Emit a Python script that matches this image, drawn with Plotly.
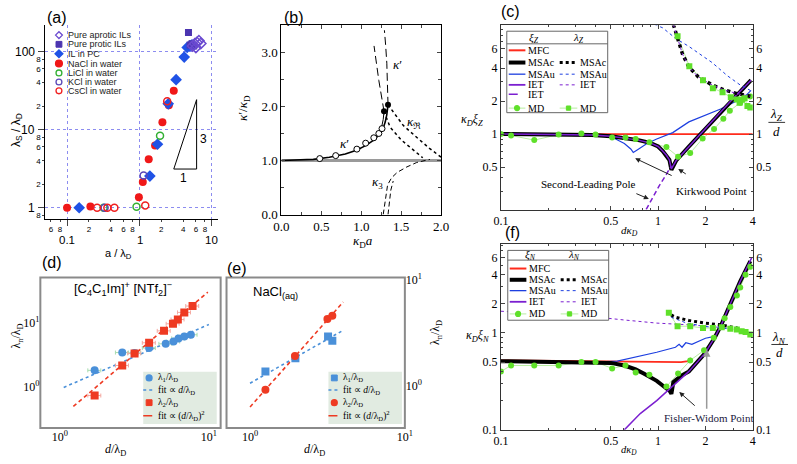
import plotly.graph_objects as go
import math

W, H = 797, 464
def X(px): return px / W
def Y(py): return 1 - py / H
def dom_x(a, b): return [a / W, b / W]
def dom_y(top, bot): return [1 - bot / H, 1 - top / H]

SERIF = "Liberation Serif"
SANS = "Liberation Sans"

# ---------------- panel (a) data ----------------
a_aprotic_x = [5.4, 5.8, 6.2, 6.6, 7.0, 6.0]
a_aprotic_y = [118, 126, 131, 138, 127, 113]
a_protic_x = [4.74, 5.0, 5.3, 5.6]
a_protic_y = [176, 121, 126, 118]
a_ilpc_x = [0.147, 1.39, 1.77, 2.49, 3.2, 4.14, 4.55, 4.95, 5.3]
a_ilpc_y = [1.0, 2.54, 6.5, 21.4, 43.7, 85, 113, 118, 122]
a_nacl_x = [0.1, 0.21, 0.98, 1.11, 1.34, 1.64, 2.07, 2.54, 2.97]
a_nacl_y = [1.0, 1.04, 1.36, 2.14, 4.17, 6.28, 12.4, 20.6, 31.6]
a_licl_x = [0.32, 0.91, 1.92]
a_licl_y = [1.0, 1.03, 8.36]
a_kcl_x = [0.33, 1.14]
a_kcl_y = [1.0, 2.59]
a_cscl_x = [0.26, 0.36, 0.45, 1.2, 2.41]
a_cscl_y = [1.0, 1.0, 1.0, 1.07, 23.1]
a_tri_x = [2.97, 6.14, 6.14, 2.97]
a_tri_y = [3.13, 3.13, 24.2, 3.13]
a_xticks = [0.06, 0.08, 0.1, 0.2, 0.4, 0.6, 0.8, 1, 2, 4, 6, 8, 10]
a_xlabels = ["6", "8", "", "2", "4", "6", "8", "", "2", "4", "6", "8", ""]
a_xdecades = [0.1, 1, 10]
a_xdecade_labels = ["0.1", "1", "10"]
a_yticks = [0.8, 1, 2, 4, 6, 8, 10, 20, 40, 60, 80, 100]
a_ylabels = ["8", "", "2", "4", "6", "8", "", "2", "4", "6", "8", ""]
a_ydecades = [1, 10, 100]
a_ydecade_labels = ["1", "10", "100"]
a_legend = ["Pure aprotic ILs", "Pure protic ILs", "IL in PC", "NaCl in water",
            "LiCl in water", "KCl in water", "CsCl in water"]

# ---------------- panel (b) data ----------------
b_hline_x = [0.0, 2.0]
b_hline_y = [1.0, 1.0]
b_kp_x = [0.0, 0.2, 0.4, 0.6, 0.8, 0.94, 1.06, 1.16, 1.22, 1.27, 1.30, 1.32, 1.335]
b_kp_y = [1.0, 1.005, 1.02, 1.06, 1.12, 1.19, 1.28, 1.38, 1.47, 1.58, 1.71, 1.85, 2.03]
b_kp2_x = [1.16, 1.22, 1.255, 1.275, 1.285]
b_kp2_y = [1.40, 1.50, 1.62, 1.76, 1.91]
b_sim_x = [0.48, 0.68, 0.945, 1.055, 1.157, 1.22, 1.26]
b_sim_y = [1.035, 1.09, 1.21, 1.32, 1.42, 1.50, 1.59]
b_dot_x = [1.285, 1.335]
b_dot_y = [1.91, 2.03]
b_up1_x = [1.335, 1.33, 1.32, 1.305, 1.29]
b_up1_y = [2.03, 2.4, 2.8, 3.14, 3.41]
b_up2_x = [1.285, 1.25, 1.22, 1.19, 1.16]
b_up2_y = [1.91, 2.2, 2.48, 2.8, 3.12]
b_r1_x = [1.335, 1.525, 1.7, 1.85, 2.0]
b_r1_y = [2.03, 1.65, 1.42, 1.23, 1.06]
b_r2_x = [1.285, 1.36, 1.5, 1.65, 1.77]
b_r2_y = [1.91, 1.62, 1.38, 1.2, 1.05]
b_k3a_x = [1.275, 1.30, 1.33, 1.38, 1.45, 1.57, 1.69, 1.80, 1.86]
b_k3a_y = [0.0, 0.3, 0.55, 0.68, 0.78, 0.88, 0.96, 1.0, 1.02]
b_k3b_x = [1.335, 1.35, 1.37, 1.40]
b_k3b_y = [0.0, 0.25, 0.45, 0.62]

# ---------------- panel (c) data ----------------
c_mfc_x = [0.1, 4.0]
c_mfc_y = [1.0, 1.0]
c_msac_x = [0.1, 0.2, 0.38, 0.5, 0.61, 0.75, 0.89, 1.0, 1.07, 1.13, 1.18, 1.215,
            1.3, 1.57, 1.98, 2.5, 3.17, 3.9]
c_msac_y = [1.0, 0.995, 0.98, 0.955, 0.915, 0.88, 0.83, 0.77, 0.70, 0.64, 0.58, 0.47,
            0.57, 0.77, 1.1, 1.59, 2.29, 3.1]
c_iet_x = [0.1, 0.2, 0.38, 0.5, 0.61, 0.75, 0.89, 1.0, 1.07, 1.13, 1.18, 1.215,
           1.3, 1.57, 1.98, 2.5, 3.17, 3.9]
c_iet_y = [1.0, 0.995, 0.98, 0.955, 0.915, 0.88, 0.83, 0.77, 0.70, 0.64, 0.58, 0.48,
           0.57, 0.77, 1.1, 1.59, 2.29, 3.1]
c_iet2_x = [0.84, 0.93, 1.02, 1.13, 1.21]
c_iet2_y = [0.205, 0.27, 0.34, 0.43, 0.51]
c_msau_x = [0.1, 0.3, 0.5, 0.61, 0.67, 0.695, 0.74, 0.85, 0.98, 1.24, 1.57, 1.98, 2.5, 3.0, 3.5, 3.9]
c_msau_y = [1.0, 0.995, 0.95, 0.82, 0.73, 0.68, 0.72, 0.82, 0.90, 1.03, 1.29, 1.47, 1.69, 1.93, 2.14, 2.5]
c_md_x = [0.1, 0.116, 0.163, 0.233, 0.325, 0.40, 0.51, 0.62, 0.72, 0.88, 1.13, 1.34,
          1.6, 1.92, 2.27, 2.6, 2.86, 3.33, 3.86]
c_md_y = [1.0, 0.97, 0.88, 0.99, 1.01, 0.99, 0.93, 0.93, 0.90, 0.84, 0.76, 0.62,
          0.67, 0.91, 1.11, 1.38, 1.63, 1.93, 2.2]
c_lmsac_x = [1.25, 1.33, 1.43, 1.57, 1.8, 2.2, 2.6, 3.17, 3.86]
c_lmsac_y = [10.0, 7.5, 5.35, 4.08, 3.33, 2.81, 2.54, 2.34, 2.21]
c_liet_x = [1.25, 1.33, 1.43, 1.57, 1.8, 2.2, 2.6, 3.17, 3.86]
c_liet_y = [10.0, 7.5, 5.35, 4.08, 3.33, 2.81, 2.54, 2.34, 2.21]
c_lmsau_x = [0.95, 1.07, 1.3, 1.57, 1.9, 2.2, 2.76, 3.33, 3.86]
c_lmsau_y = [10.0, 9.3, 7.4, 6.3, 5.2, 4.5, 3.4, 2.8, 2.5]
c_lmd_x = [1.33, 1.58, 1.93, 2.23, 2.57, 2.9, 3.17, 3.3, 3.42, 3.55, 3.7, 3.86]
c_lmd_y = [7.8, 4.16, 3.1, 2.62, 2.4, 2.17, 2.07, 1.93, 2.05, 2.12, 1.8, 1.75]

# ---------------- panel (f) data ----------------
f_mfc_x = [0.1, 0.3, 0.6, 1.0, 1.4, 1.55, 1.62]
f_mfc_y = [0.52, 0.51, 0.505, 0.5, 0.5, 0.51, 0.55]
f_msac_x = [0.1, 0.3, 0.5, 0.61, 0.72, 0.81, 0.98, 1.12, 1.19, 1.215,
            1.25, 1.4, 1.57, 1.98, 2.29, 2.5, 2.88, 3.33, 3.86]
f_msac_y = [0.51, 0.50, 0.49, 0.46, 0.42, 0.38, 0.32, 0.27, 0.25, 0.235,
            0.31, 0.36, 0.40, 0.61, 0.89, 1.17, 2.0, 3.4, 5.5]
f_iet_x = [0.61, 0.77, 0.98, 1.21, 1.4, 1.57, 1.98, 2.29, 2.5, 2.88, 3.33, 3.95]
f_iet_y = [0.1, 0.147, 0.2, 0.27, 0.34, 0.40, 0.61, 0.89, 1.17, 2.0, 3.4, 6.0]
f_msau_x = [0.1, 0.4, 0.55, 0.65, 0.77, 0.98, 1.29, 1.36, 1.42, 1.5, 1.64, 1.8, 2.0, 2.29, 2.5, 2.88, 3.33, 3.86]
f_msau_y = [0.5, 0.5, 0.51, 0.54, 0.58, 0.63, 0.71, 0.76, 0.71, 0.79, 0.76, 0.82, 0.88, 0.92, 1.17, 2.0, 3.4, 5.5]
f_md_x = [0.1, 0.116, 0.163, 0.233, 0.325, 0.40, 0.51, 0.62, 0.72, 0.88, 1.13, 1.34,
          1.6, 1.96, 2.26, 2.65, 2.88, 3.17, 3.33, 3.6, 3.86]
f_md_y = [0.40, 0.46, 0.46, 0.46, 0.50, 0.50, 0.43, 0.46, 0.39, 0.37, 0.28, 0.38,
          0.52, 0.66, 0.89, 1.41, 1.85, 2.42, 2.93, 3.98, 4.8]
f_liet_x = [0.1, 0.2, 0.38, 0.6, 0.98, 1.57, 2.5, 3.17, 3.86]
f_liet_y = [1.67, 1.57, 1.47, 1.36, 1.26, 1.21, 1.14, 1.06, 0.96]
f_lmsac_x = [1.21, 1.29, 1.57, 1.98, 2.5, 3.17, 3.86]
f_lmsac_y = [1.53, 1.45, 1.34, 1.26, 1.21, 1.12, 0.96]
f_lmsau_x = [1.21, 1.5, 2.0, 2.5, 3.0, 3.86]
f_lmsau_y = [1.45, 1.27, 1.16, 1.13, 1.08, 0.96]
f_lmd_x = [1.17, 1.33, 1.6, 1.93, 2.23, 2.54, 2.88, 3.17, 3.4, 3.6, 3.86]
f_lmd_y = [1.61, 1.17, 1.17, 1.12, 1.12, 1.14, 1.10, 1.08, 1.04, 1.02, 0.96]

cf_xticks = [0.1, 0.5, 1, 2, 4]
cf_xminor = [0.2, 0.3, 0.4, 0.6, 0.7, 0.8, 0.9, 3]
c_yticks = [0.5, 1, 2, 4, 6]
f_yticks = [0.1, 0.5, 1, 2, 4, 6]

# ---------------- panel (d) data ----------------
d_l1_x = [1.71, 2.62, 3.17, 3.97, 5.13, 5.79, 6.25, 6.84, 7.57]
d_l1_y = [1.83, 3.47, 3.43, 4.08, 4.75, 5.16, 5.78, 6.19, 6.58]
d_l2_x = [1.71, 2.62, 3.17, 3.97, 5.0, 5.74, 6.19, 6.84, 7.77]
d_l2_y = [0.74, 2.18, 3.36, 4.93, 7.57, 9.77, 11.4, 14.7, 18.5]
d_fit1_x = [1.06, 10.0]
d_fit1_y = [0.99, 9.53]
d_fit2_x = [1.23, 9.84]
d_fit2_y = [0.50, 30.5]

# ---------------- panel (e) data ----------------
e_l1_x = [1.257, 1.963, 3.19, 3.40]
e_l1_y = [1.47, 2.07, 3.66, 3.28]
e_l2_x = [1.257, 1.95, 3.16, 3.40]
e_l2_y = [0.91, 2.19, 5.78, 6.28]
e_fit1_x = [1.0, 4.0]
e_fit1_y = [1.08, 4.3]
e_fit2_x = [1.0, 4.0]
e_fit2_y = [0.58, 9.0]

# ---------------- styles ----------------
RED = "#ff2b1c"
BLUE = "#1d3fe0"
PURPLE = "#7b1fd0"
GREEN = "#5fe02a"
LGREEN = "#b7eea0"
DBLUE = "#4a90d9"
DRED = "#ee3a22"

fig = go.Figure()

def sc(x, y, xa, ya, **kw):
    fig.add_trace(go.Scatter(x=x, y=y, xaxis=xa, yaxis=ya, showlegend=False,
                             hoverinfo="skip", **kw))

# ---- (a)
sc(a_tri_x, a_tri_y, "x", "y", mode="lines", line=dict(color="black", width=1))
sc(a_nacl_x, a_nacl_y, "x", "y", mode="markers", marker=dict(symbol="circle", size=8, color="#f01818"))
sc(a_ilpc_x, a_ilpc_y, "x", "y", mode="markers", marker=dict(symbol="diamond", size=9, color="#1f52e6"))
sc(a_protic_x, a_protic_y, "x", "y", mode="markers", marker=dict(symbol="square", size=7, color="#4b35b0"))
sc(a_aprotic_x, a_aprotic_y, "x", "y", mode="markers",
   marker=dict(symbol="diamond-open", size=8, color="#6a4ad0", line=dict(width=1.5)))
sc(a_licl_x, a_licl_y, "x", "y", mode="markers",
   marker=dict(symbol="circle-open", size=7, color="#33b033", line=dict(width=1.5)))
sc(a_kcl_x, a_kcl_y, "x", "y", mode="markers",
   marker=dict(symbol="circle-open", size=7, color="#5a48b8", line=dict(width=1.5)))
sc(a_cscl_x, a_cscl_y, "x", "y", mode="markers",
   marker=dict(symbol="circle-open", size=7, color="#f02020", line=dict(width=1.5)))

# ---- (b)
sc(b_hline_x, b_hline_y, "x2", "y2", mode="lines", line=dict(color="#9a9a9a", width=3))
sc(b_kp2_x, b_kp2_y, "x2", "y2", mode="lines", line=dict(color="black", width=1))
sc(b_kp_x, b_kp_y, "x2", "y2", mode="lines", line=dict(color="black", width=1.6))
sc(b_up1_x, b_up1_y, "x2", "y2", mode="lines", line=dict(color="black", width=1, dash="8px,4px"))
sc(b_up2_x, b_up2_y, "x2", "y2", mode="lines", line=dict(color="black", width=1, dash="8px,4px"))
sc(b_r1_x, b_r1_y, "x2", "y2", mode="lines", line=dict(color="black", width=1.5, dash="dot"))
sc(b_r2_x, b_r2_y, "x2", "y2", mode="lines", line=dict(color="black", width=1.5, dash="dot"))
sc(b_k3a_x, b_k3a_y, "x2", "y2", mode="lines", line=dict(color="black", width=1, dash="5px,3px"))
sc(b_k3b_x, b_k3b_y, "x2", "y2", mode="lines", line=dict(color="black", width=1, dash="5px,3px"))
sc(b_sim_x, b_sim_y, "x2", "y2", mode="markers",
   marker=dict(symbol="circle", size=6, color="white", line=dict(color="black", width=1)))
sc(b_dot_x, b_dot_y, "x2", "y2", mode="markers", marker=dict(symbol="circle", size=6, color="black"))

# ---- (c)
sc(c_md_x, c_md_y, "x3", "y3", mode="lines", line=dict(color=LGREEN, width=1))
sc(c_lmd_x, c_lmd_y, "x3", "y4", mode="lines", line=dict(color=LGREEN, width=1))
sc(c_mfc_x, c_mfc_y, "x3", "y3", mode="lines", line=dict(color=RED, width=1.8))
sc(c_msau_x, c_msau_y, "x3", "y3", mode="lines", line=dict(color=BLUE, width=1.2))
sc(c_lmsau_x, c_lmsau_y, "x3", "y4", mode="lines", line=dict(color=BLUE, width=1, dash="dot"))
sc(c_msac_x, c_msac_y, "x3", "y3", mode="lines", line=dict(color="black", width=4))
sc(c_iet_x, c_iet_y, "x3", "y3", mode="lines", line=dict(color=PURPLE, width=1.5))
sc(c_iet2_x, c_iet2_y, "x3", "y3", mode="lines", line=dict(color=PURPLE, width=1.5, dash="5px,3px"))
sc(c_lmsac_x, c_lmsac_y, "x3", "y4", mode="lines", line=dict(color="black", width=3.5, dash="dot"))
sc(c_liet_x, c_liet_y, "x3", "y4", mode="lines", line=dict(color=PURPLE, width=1, dash="dot"))
sc(c_md_x, c_md_y, "x3", "y3", mode="markers", marker=dict(symbol="circle", size=6, color=GREEN))
sc(c_lmd_x, c_lmd_y, "x3", "y4", mode="markers", marker=dict(symbol="square", size=6, color=GREEN))

# ---- (f)
sc(f_md_x, f_md_y, "x5", "y5", mode="lines", line=dict(color=LGREEN, width=1))
sc(f_lmd_x, f_lmd_y, "x5", "y6", mode="lines", line=dict(color=LGREEN, width=1))
sc(f_liet_x, f_liet_y, "x5", "y6", mode="lines", line=dict(color=PURPLE, width=1, dash="dot"))
sc(f_lmsau_x, f_lmsau_y, "x5", "y6", mode="lines", line=dict(color=BLUE, width=1, dash="dot"))
sc(f_lmsac_x, f_lmsac_y, "x5", "y6", mode="lines", line=dict(color="black", width=3, dash="dot"))
sc(f_mfc_x, f_mfc_y, "x5", "y5", mode="lines", line=dict(color=RED, width=1.8))
sc(f_msau_x, f_msau_y, "x5", "y5", mode="lines", line=dict(color=BLUE, width=1.2))
sc(f_msac_x, f_msac_y, "x5", "y5", mode="lines", line=dict(color="black", width=4))
sc(f_iet_x, f_iet_y, "x5", "y5", mode="lines", line=dict(color=PURPLE, width=1.5))
sc(f_md_x, f_md_y, "x5", "y5", mode="markers", marker=dict(symbol="circle", size=6, color=GREEN))
sc(f_lmd_x, f_lmd_y, "x5", "y6", mode="markers", marker=dict(symbol="square", size=6, color=GREEN))

# ---- (d)
sc(d_fit1_x, d_fit1_y, "x7", "y7", mode="lines", line=dict(color=DBLUE, width=1.6, dash="dot"))
sc(d_fit2_x, d_fit2_y, "x7", "y7", mode="lines", line=dict(color=DRED, width=1.6, dash="4px,3px"))
sc(d_l1_x, d_l1_y, "x7", "y7", mode="markers", marker=dict(symbol="circle", size=8, color=DBLUE),
   error_x=dict(type="percent", value=10, color="#a8dcb0", thickness=1, width=2))
sc(d_l2_x, d_l2_y, "x7", "y7", mode="markers", marker=dict(symbol="square", size=8, color=DRED),
   error_x=dict(type="percent", value=10, color="#f4a8a0", thickness=1, width=2))

# ---- (e)
sc(e_fit1_x, e_fit1_y, "x8", "y8", mode="lines", line=dict(color=DBLUE, width=1.6, dash="dot"))
sc(e_fit2_x, e_fit2_y, "x8", "y8", mode="lines", line=dict(color=DRED, width=1.6, dash="4px,3px"))
sc(e_l1_x, e_l1_y, "x8", "y8", mode="markers", marker=dict(symbol="square", size=8, color=DBLUE))
sc(e_l2_x, e_l2_y, "x8", "y8", mode="markers", marker=dict(symbol="circle", size=8, color=DRED))
sc([None], [None], "x8", "y9", mode="markers")

# ---------------- axes ----------------
def lg(v): return math.log10(v)

GRID = dict(showgrid=True, gridcolor="#8c8cf0", griddash="dot", gridwidth=1)

layout = dict(
    width=W, height=H, margin=dict(l=0, r=0, t=0, b=0), autosize=False,
    paper_bgcolor="white", plot_bgcolor="white", showlegend=False,
    xaxis=dict(type="log", domain=dom_x(38, 214), range=[lg(0.05), lg(12.0)], anchor="y",
               tickmode="array", tickvals=a_xticks, ticktext=a_xlabels, ticks="outside", ticklen=2,
               tickangle=0, showline=True, linecolor="black", linewidth=1, showgrid=False,
               zeroline=False, tickfont=dict(family=SANS, size=8, color="black"),
               minor=dict(tickmode="array", tickvals=a_xdecades, ticks="outside", ticklen=6, **GRID)),
    yaxis=dict(type="log", domain=dom_y(20, 220), range=[-0.149, 2.335], anchor="x",
               tickmode="array", tickvals=a_yticks, ticktext=a_ylabels, ticks="outside", ticklen=2,
               tickangle=0, showline=True, linecolor="black", linewidth=1, showgrid=False,
               zeroline=False, tickfont=dict(family=SANS, size=8, color="black"),
               minor=dict(tickmode="array", tickvals=a_ydecades, ticks="outside", ticklen=6, **GRID)),
    xaxis2=dict(domain=dom_x(279, 442), range=[0, 2.0], anchor="y2",
                tickmode="array", tickvals=[0, 0.5, 1.0, 1.5, 2.0], tickangle=0,
                ticktext=["0.0", "0.5", "1.0", "1.5", "2.0"], ticks="inside", ticklen=4,
                showline=True, linecolor="black", linewidth=1, mirror="allticks",
                showgrid=False, zeroline=False, tickfont=dict(family=SERIF, size=13, color="black"),
                minor=dict(dtick=0.25, ticks="inside", ticklen=3)),
    yaxis2=dict(domain=dom_y(20, 215), range=[0, 3.5], anchor="x2",
                tickmode="array", tickvals=[0, 1, 2, 3], ticktext=["0.0", "1.0", "2.0", "3.0"],
                ticks="inside", ticklen=4, showline=True, linecolor="black", linewidth=1,
                mirror="allticks", showgrid=False, zeroline=False,
                tickfont=dict(family=SERIF, size=13, color="black"),
                minor=dict(dtick=0.5, ticks="inside", ticklen=3)),
)

def cf_x(dom_anchor):
    return dict(type="log", domain=dom_x(503, 760), range=[-1, lg(4.0)], anchor=dom_anchor,
                tickmode="array", tickvals=cf_xticks, ticktext=[str(v) for v in cf_xticks],
                tickangle=0, ticks="inside", ticklen=4, showline=True, linecolor="#333", linewidth=1,
                mirror="ticks", showgrid=False, zeroline=False,
                tickfont=dict(family=SERIF, size=12, color="black"),
                minor=dict(tickmode="array", tickvals=cf_xminor, ticks="inside", ticklen=2))

def cf_y(top, bot, rng, ticks, anchor, side="left", overlay=None):
    d = dict(type="log", range=rng, anchor=anchor, side=side, tickangle=0,
             tickmode="array", tickvals=ticks, ticktext=[str(v) for v in ticks],
             ticks="inside", ticklen=4, showline=True, linecolor="#333", linewidth=1,
             showgrid=False, zeroline=False, tickfont=dict(family=SERIF, size=12, color="black"),
             minor=dict(tickmode="array", tickvals=[0.2, 0.3, 0.4, 0.6, 0.7, 0.8, 0.9, 3, 5, 7, 8, 9],
                        ticks="inside", ticklen=2))
    if overlay:
        d["overlaying"] = overlay
    else:
        d["domain"] = dom_y(top, bot)
    return d

layout["xaxis3"] = cf_x("y3")
layout["yaxis3"] = cf_y(20, 210, [-0.69, 0.991], c_yticks, "x3")
layout["yaxis4"] = cf_y(20, 210, [-0.69, 0.991], c_yticks, "x3", side="right", overlay="y3")
layout["xaxis5"] = cf_x("y5")
layout["yaxis5"] = cf_y(245, 437, [-1, 0.92], f_yticks, "x5")
layout["yaxis6"] = cf_y(245, 437, [-1, 0.92], f_yticks, "x5", side="right", overlay="y5")

dticks = dict(tickmode="array", tickvals=[1, 10], ticktext=["10<sup>0</sup>", "10<sup>1</sup>"],
              ticks="", showline=False, showgrid=False, zeroline=False, tickangle=0,
              tickfont=dict(family=SERIF, size=12, color="black"))
layout["xaxis7"] = dict(type="log", domain=dom_x(33, 217), range=[-0.1316, 1.079], anchor="y7", **dticks)
layout["yaxis7"] = dict(type="log", domain=dom_y(280, 435), range=[-0.636, 1.712], anchor="x7", **dticks)
layout["xaxis8"] = dict(type="log", domain=dom_x(223, 405), range=[-0.152, 1.0], anchor="y8", **dticks)
layout["yaxis8"] = dict(type="log", domain=dom_y(280, 435), range=[-0.473, 1.231], anchor="x8",
                        visible=False)
layout["yaxis9"] = dict(type="log", range=[-0.391, 1.018], anchor="x8", overlaying="y8",
                        side="right", **dticks)

# ---------------- annotations & shapes ----------------
anns = []
shapes = []

def ann(text, px, py, size=11, family=SERIF, color="black", xa="center", ya="middle", angle=0):
    anns.append(dict(text=text, x=X(px), y=Y(py), xref="paper", yref="paper", showarrow=False,
                     font=dict(size=size, family=family, color=color), xanchor=xa, yanchor=ya,
                     textangle=angle))

def arrow(tx, ty, sx, sy, color="#222", width=1):
    anns.append(dict(text="", x=X(tx), y=Y(ty), xref="paper", yref="paper", showarrow=True,
                     ax=sx - tx, ay=sy - ty, axref="pixel", ayref="pixel",
                     arrowhead=2, arrowsize=1, arrowwidth=width, arrowcolor=color))

def hline(x0, x1, y, color, width=1, dash="solid"):
    shapes.append(dict(type="line", xref="paper", yref="paper", x0=X(x0), x1=X(x1), y0=Y(y), y1=Y(y),
                       line=dict(color=color, width=width, dash=dash)))

def box(x0, y0, x1, y1, line="#555", fill="white", width=1):
    shapes.append(dict(type="rect", xref="paper", yref="paper", x0=X(x0), x1=X(x1), y0=Y(y1), y1=Y(y0),
                       line=dict(color=line, width=width), fillcolor=fill, layer="above"))

def circ(cx, cy, r, color, fill=True, lw=1.3):
    shapes.append(dict(type="circle", xref="paper", yref="paper", x0=X(cx - r), x1=X(cx + r),
                       y0=Y(cy + r), y1=Y(cy - r), line=dict(color=color, width=lw),
                       fillcolor=color if fill else "rgba(0,0,0,0)", layer="above"))

def sq(cx, cy, r, color):
    shapes.append(dict(type="rect", xref="paper", yref="paper", x0=X(cx - r), x1=X(cx + r),
                       y0=Y(cy + r), y1=Y(cy - r), line=dict(color=color, width=1),
                       fillcolor=color, layer="above"))

def diam(cx, cy, r, color, fill=True):
    path = "M %f,%f L %f,%f L %f,%f L %f,%f Z" % (X(cx - r), Y(cy), X(cx), Y(cy - r),
                                                   X(cx + r), Y(cy), X(cx), Y(cy + r))
    shapes.append(dict(type="path", xref="paper", yref="paper", path=path,
                       line=dict(color=color, width=1.3),
                       fillcolor=color if fill else "rgba(0,0,0,0)", layer="above"))

# panel labels
ann("(a)", 50, 12, size=16, family=SANS)
ann("(b)", 292, 12, size=16, family=SANS)
ann("(c)", 513, 6, size=16, family=SANS)
ann("(d)", 45, 264, size=16, family=SANS)
ann("(e)", 234, 271, size=16, family=SANS)
ann("(f)", 515, 234, size=16, family=SANS)

# (a) decade labels placed on the axis scales
for v, t in zip(a_xdecades, a_xdecade_labels):
    anns.append(dict(text=t, x=lg(v), xref="x", y=Y(241), yref="paper", showarrow=False,
                     font=dict(size=11.5, family=SANS, color="black"), xanchor="center", yanchor="middle"))
for v, t in zip(a_ydecades, a_ydecade_labels):
    anns.append(dict(text=t, y=lg(v), yref="y", x=X(30), xref="paper", showarrow=False,
                     font=dict(size=12, family=SANS, color="black"), xanchor="right", yanchor="middle"))

# (a) legend and labels
a_leg_rows = [30, 39.5, 49.3, 59.3, 69, 78.3, 87.5]
diam(52, a_leg_rows[0], 3.5, "#6a4ad0", fill=False)
sq(52, a_leg_rows[1], 3, "#4b35b0")
diam(52, a_leg_rows[2], 4, "#1f52e6")
circ(52, a_leg_rows[3], 3.5, "#f01818")
circ(52, a_leg_rows[4], 3, "#33b033", fill=False)
circ(52, a_leg_rows[5], 3, "#5a48b8", fill=False)
circ(52, a_leg_rows[6], 3, "#f02020", fill=False)
for t, yy in zip(a_legend, a_leg_rows):
    ann(t, 59, yy, size=9, family=SANS, color="#222", xa="left")
ann("1", 179, 177, size=12, family=SANS)
ann("3", 199, 137, size=12, family=SANS)
ann("λ<sub>S</sub> / λ<sub>D</sub>", 9, 128, size=12, family=SANS, angle=-90)
ann("a / λ<sub>D</sub>", 113, 256, size=11, family=SANS)

# (b) labels
ann("<i>κ</i>′", 343, 142, size=13)
ann("<i>κ</i>′", 397, 60, size=13)
ann("<i>κ</i><sub>ℜ</sub>", 414, 120, size=13)
ann("<i>κ</i><sub>3</sub>", 377, 182, size=13)
ann("<i>κ</i>′/<i>κ</i><sub>D</sub>", 241, 105, size=13, angle=-90)
ann("<i>κ</i><sub>D</sub><i>a</i>", 362, 243, size=13)

# (c) labels
ann("<i>κ<sub>D</sub>ξ<sub>Z</sub></i>", 473, 118, size=12)
ann("<i>λ<sub>Z</sub></i>", 784, 112, size=13)
hline(776, 793, 120, "black", 0.8)
ann("<i>d</i>", 784, 129, size=13)
ann("<i>dκ<sub>D</sub></i>", 634, 232, size=11)
ann("Second-Leading Pole", 592, 184, size=11)
ann("Kirkwood Point", 718, 191, size=11)
arrow(640, 157, 678, 175)
arrow(654, 199, 640, 193)
arrow(684, 168, 693, 174)

# (f) labels
ann("<i>κ<sub>D</sub>ξ<sub>N</sub></i>", 479, 340, size=12)
ann("<i>λ<sub>N</sub></i>", 787, 342, size=13)
hline(779, 796, 349, "black", 0.8)
ann("<i>d</i>", 787, 357, size=13)
ann("<i>dκ<sub>D</sub></i>", 634, 458, size=10.5)
ann("Fisher-Widom Point", 715, 425, size=11, color="#1a1a40")
arrow(685, 398, 702, 413)
arrow(713, 354, 713, 415, color="#999", width=1.5)

# (c)/(f) legends
def table_legend(x0, y0, x1, y1, sep, head_y, hx1, hx2, head1, head2, rows, col1, col2):
    box(x0, y0, x1, y1, line="#666", fill="white")
    hline(x0, x1, sep, "#666", 1)
    ann(head1, hx1, head_y, size=11)
    ann(head2, hx2, head_y, size=11)
    for yy, e1, e2 in zip(rows, col1, col2):
        for (lx0, lx1, tx), e in (((x0 + 2, x0 + 19, x0 + 20), e1), ((x0 + 54, x0 + 72, x0 + 73), e2)):
            if e is None:
                continue
            name, color, width, dash, mark = e
            hline(lx0, lx1, yy, color, width, dash)
            if mark == "c":
                circ((lx0 + lx1) / 2, yy, 2.5, GREEN)
            elif mark == "s":
                sq((lx0 + lx1) / 2, yy, 2.2, GREEN)
            ann(name, tx, yy, size=10, xa="left")

table_legend(509, 26, 612, 110, 39, 32.5, 537, 582,
             "<i>ξ<sub>Z</sub></i>", "<i>λ<sub>Z</sub></i>",
             [45.7, 58.3, 70.3, 81.3, 91.0, 105.3],
             [("MFC", RED, 2, "solid", None), ("MSAc", "black", 4, "solid", None),
              ("MSAu", BLUE, 1.3, "solid", None), ("IET", PURPLE, 1.8, "solid", None),
              ("IET", PURPLE, 1.5, "dash", None), ("MD", LGREEN, 1, "solid", "c")],
             [None, ("MSAc", "black", 3, "dot", None), ("MSAu", BLUE, 1, "dot", None),
              ("IET", PURPLE, 1, "dot", None), None, ("MD", LGREEN, 1, "solid", "s")])

table_legend(510, 252, 613, 324, 262, 257, 533, 578,
             "<i>ξ<sub>N</sub></i>", "<i>λ<sub>N</sub></i>",
             [270.7, 282.3, 293.5, 305, 317.5],
             [("MFC", RED, 2, "solid", None), ("MSAc", "black", 4, "solid", None),
              ("MSAu", BLUE, 1.3, "solid", None), ("IET", PURPLE, 1.8, "solid", None),
              ("MD", LGREEN, 1, "solid", "c")],
             [None, ("MSAc", "black", 3, "dot", None), ("MSAu", BLUE, 1, "dot", None),
              ("IET", PURPLE, 1, "dot", None), ("MD", LGREEN, 1, "solid", "s")])

# (d)/(e) frames
shapes.append(dict(type="rect", xref="paper", yref="paper", x0=X(33), x1=X(217), y0=Y(435), y1=Y(280),
                   line=dict(color="#8a8a8a", width=2), layer="below"))
shapes.append(dict(type="rect", xref="paper", yref="paper", x0=X(223), x1=X(405), y0=Y(435), y1=Y(280),
                   line=dict(color="#8a8a8a", width=2), layer="below"))
ann("[C<sub>4</sub>C<sub>1</sub>Im]<sup>+</sup> [NTf<sub>2</sub>]<sup>−</sup>", 117, 292, size=13, family=SANS)
ann("NaCl<sub>(aq)</sub>", 248, 295, size=13, family=SANS, xa="left")
ann("λ<sub>n</sub>/λ<sub>D</sub>", 9, 340, size=12, angle=-90)
ann("<i>d</i>/λ<sub>D</sub>", 110, 458, size=12)
ann("<i>d</i>/λ<sub>D</sub>", 313, 458, size=12)
ann("λ<sub>n</sub>/λ<sub>D</sub>", 437, 337, size=12, angle=-90)

def small_legend(x0, y0, x1, y1, sx, rows, sym1, sym2):
    shapes.append(dict(type="rect", xref="paper", yref="paper", x0=X(x0), x1=X(x1), y0=Y(y1), y1=Y(y0),
                       line=dict(width=0), fillcolor="#e1ebe1", layer="below"))
    if sym1 == "c":
        circ(sx, rows[0], 3, DBLUE)
    else:
        sq(sx, rows[0], 3, DBLUE)
    hline(sx - 6, sx + 5, rows[1], DBLUE, 1.5, "dot")
    if sym2 == "s":
        sq(sx, rows[2], 3, DRED)
    else:
        circ(sx, rows[2], 3, DRED)
    hline(sx - 6, sx + 5, rows[3], DRED, 1.5, "dash")
    tx = sx + 7
    ann("λ<sub>1</sub>/λ<sub>D</sub>", tx, rows[0], size=9.5, xa="left")
    ann("fit ∝ <i>d</i>/λ<sub>D</sub>", tx, rows[1], size=9.5, xa="left")
    ann("λ<sub>2</sub>/λ<sub>D</sub>", tx, rows[2], size=9.5, xa="left")
    ann("fit ∝ (<i>d</i>/λ<sub>D</sub>)<sup>2</sup>", tx, rows[3], size=9.5, xa="left")

small_legend(138, 377, 213, 431, 144, [383.5, 396, 409, 422.5], "c", "s")
small_legend(327, 377, 402, 431, 333, [383.5, 396, 409, 422.5], "s", "c")

layout["annotations"] = anns
layout["shapes"] = shapes
fig.update_layout(**layout)
fig.write_html("out.html")
